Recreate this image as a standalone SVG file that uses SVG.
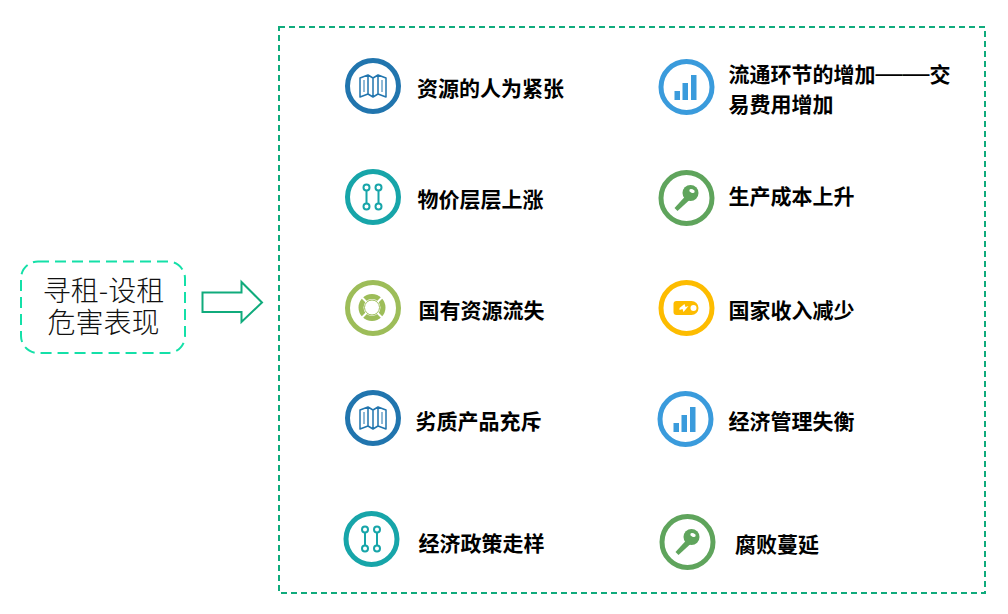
<svg xmlns="http://www.w3.org/2000/svg" width="1008" height="614" viewBox="0 0 1008 614">
<style>
.l{font-family:"Noto Sans CJK SC","Liberation Sans",sans-serif;font-weight:700;font-size:21px;fill:#000}
.d{font-family:"Liberation Sans",sans-serif;font-weight:400;font-size:27px}
.t{font-family:"Noto Sans CJK SC","Liberation Sans",sans-serif;font-weight:300;font-size:28px;fill:#111;text-anchor:middle}
.ring{fill:none;stroke-width:5}
</style>
<defs>
<g id="map" fill="none" stroke-width="1.500" stroke-linejoin="round">
<path d="M-13-8-5-11-5 8-13 11Z M-5-11 0-8 0 11-5 8 M0-8 5-11 5 8 0 11 M5-11 13-8 13 11 5 8"/>
<path d="M-9-6V6M9-6V6" stroke-width="1"/>
</g>
<g id="pins" fill="none" stroke-width="2">
<circle cx="-6" cy="-9.500" r="3"/><circle cx="-6" cy="9.500" r="3"/><circle cx="6" cy="-9.500" r="3"/><circle cx="6" cy="9.500" r="3"/>
<path d="M-6-6.500V6.500M6-6.500V6.500"/>
</g>
<g id="buoy">
<circle r="11" fill="none" stroke-width="5"/>
<circle r="7.500" fill="none" stroke-width="1"/>
<path d="M-10.500-10.500-5.500-5.500M10.500-10.500 5.500-5.500M-10.500 10.500-5.500 5.500M10.500 10.500 5.500 5.500" stroke="#fff" stroke-width="2" fill="none"/>
</g>
<g id="bars" stroke="none">
<rect x="-12" y="4" width="5.500" height="9"/><rect x="-4" y="-4" width="5.500" height="17"/><rect x="4.500" y="-12" width="5.500" height="25"/>
</g>
<g id="key" stroke="none">
<path d="M-9 13-12 10-1-2 3 2Z"/>
<circle cx="4" cy="-5" r="8"/>
<ellipse cx="5.500" cy="-7" rx="2.800" ry="1.800" fill="#fff" transform="rotate(20 5.500 -7)"/>
</g>
<g id="batt" stroke="none">
<path d="M-10-7H5A7 7 0 0 1 5 7H-10A3 3 0 0 1-13 4V-4A3 3 0 0 1-10-7Z"/>
<circle cx="7" cy="0" r="3" fill="#fff"/>
<path d="M-7 0-2-4-1-1 2-2-3 4-4 1-7 2Z" fill="#fff"/>
</g>
</defs>

<g id="connectors">
<path d="M202.500 292.500H241.500V282L262 302.500 241.500 322V312H202.500Z" fill="#fff" stroke="#10ab7c" stroke-width="2"/>
</g>

<g id="source">
<rect x="21" y="261.500" width="164" height="91.500" rx="17" fill="#fff" stroke="#14e0a8" stroke-width="2" stroke-dasharray="11 6"/>
<text class="t" x="103.500" y="301">寻租-设租</text>
<text class="t" x="103.500" y="333">危害表现</text>
</g>

<g id="panel">
<rect x="279" y="27" width="706" height="566" fill="none" stroke="#10ab7c" stroke-width="2" stroke-dasharray="6 4"/>
</g>

<g id="n1"><circle class="ring" cx="373" cy="86" r="25.500" stroke="#2175ae"/><use href="#map" x="373" y="86" stroke="#2175ae"/><text class="l" x="417" y="96">资源的人为紧张</text></g>
<g id="n2"><circle class="ring" cx="373" cy="197" r="25.500" stroke="#17a5a9"/><use href="#pins" x="372.500" y="197" stroke="#17a5a9"/><text class="l" x="417.500" y="207">物价层层上涨</text></g>
<g id="n3"><circle class="ring" cx="373" cy="308" r="25.500" stroke="#9dbd59"/><use href="#buoy" x="372" y="307.500" stroke="#9dbd59"/><text class="l" x="418.500" y="318">国有资源流失</text></g>
<g id="n4"><circle class="ring" cx="373" cy="418" r="25.500" stroke="#2175ae"/><use href="#map" x="373" y="418" stroke="#2175ae"/><text class="l" x="415.500" y="429">劣质产品充斥</text></g>
<g id="n5"><circle class="ring" cx="371.500" cy="539" r="25.500" stroke="#17a5a9"/><use href="#pins" x="371" y="539" stroke="#17a5a9"/><text class="l" x="418.500" y="551">经济政策走样</text></g>

<g id="n6"><circle class="ring" cx="686.500" cy="87" r="25.500" stroke="#3a9bdc"/><use href="#bars" x="686.500" y="87" fill="#3a9bdc"/><text class="l" x="728.500" y="82">流通环节的增加<tspan class="d">——</tspan>交</text><text class="l" x="728.500" y="112">易费用增加</text></g>
<g id="n7"><circle class="ring" cx="686.500" cy="198" r="25.500" stroke="#5fa45c"/><use href="#key" x="686.500" y="198" fill="#5fa45c"/><text class="l" x="728.500" y="203.500">生产成本上升</text></g>
<g id="n8"><circle class="ring" cx="686.500" cy="308" r="25.500" stroke="#fdbc00"/><use href="#batt" x="686.500" y="308" fill="#fdbc00"/><text class="l" x="728.500" y="318">国家收入减少</text></g>
<g id="n9"><circle class="ring" cx="685.500" cy="419" r="25.500" stroke="#3a9bdc"/><use href="#bars" x="685.500" y="419" fill="#3a9bdc"/><text class="l" x="728.500" y="429">经济管理失衡</text></g>
<g id="n10"><circle class="ring" cx="687.500" cy="542" r="25.500" stroke="#5fa45c"/><use href="#key" x="687.500" y="542" fill="#5fa45c"/><text class="l" x="735" y="552">腐败蔓延</text></g>
</svg>
